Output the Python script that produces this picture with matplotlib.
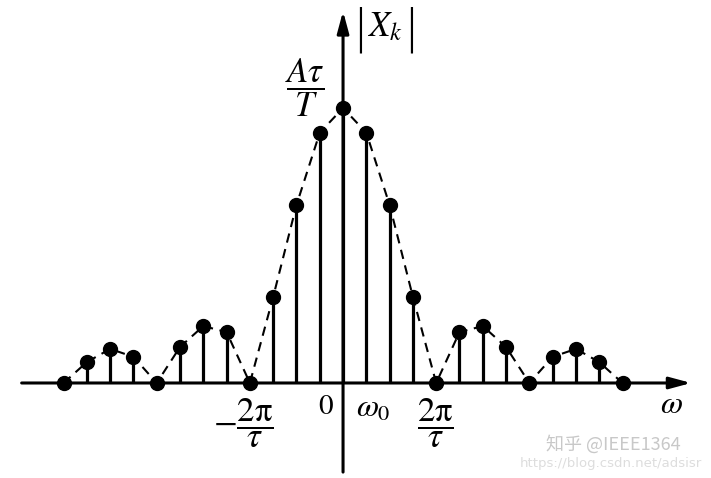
import matplotlib
matplotlib.use("Agg")
import matplotlib.pyplot as plt

# harmonic index k (multiples of omega_0) and normalised magnitudes |X_k| / (A tau / T)
k = [-12, -11, -10, -9, -8, -7, -6, -5, -4, -3, -2, -1, 0,
     1, 2, 3, 4, 5, 6, 7, 8, 9, 10, 11, 12]
mag = [0.0, 0.076, 0.124, 0.095, 0.0, 0.131, 0.207, 0.185, 0.0, 0.313, 0.647, 0.91, 1.0,
       0.91, 0.647, 0.313, 0.0, 0.185, 0.207, 0.131, 0.0, 0.095, 0.124, 0.076, 0.0]

plt.rcParams['mathtext.fontset'] = 'stix'
plt.rcParams['font.family'] = ['STIXGeneral', 'DejaVu Serif']

fig = plt.figure(figsize=(7.11, 4.78), dpi=100)
ax = fig.add_axes([0, 0, 1, 1])
ax.set_xlim(-14.73, 15.80)
ax.set_ylim(-0.3455, 1.3927)
ax.axis('off')

# axes with arrows
ax.annotate('', xy=(14.95, 0), xytext=(-13.8, 0),
            arrowprops=dict(arrowstyle='-|>,head_length=1.3,head_width=0.35',
                            lw=2.2, color='black', shrinkA=0, shrinkB=0))
ax.annotate('', xy=(0, 1.352), xytext=(0, -0.324),
            arrowprops=dict(arrowstyle='-|>,head_length=1.3,head_width=0.35',
                            lw=2.2, color='black', shrinkA=0, shrinkB=0))

# dashed envelope
ax.plot(k, mag, linestyle=(0, (4.5, 3.2)), color='black', lw=1.5, zorder=2)
# stems
ax.vlines(k, 0, mag, colors='black', lw=2.3, zorder=3)
# dots
ax.plot(k, mag, 'o', color='black', markersize=10, zorder=4)

# labels
ax.text(0.73, 1.285, '|', fontsize=34, ha='center', va='center', family='DejaVu Sans',
        fontweight='light')
ax.text(2.9, 1.285, '|', fontsize=34, ha='center', va='center', family='DejaVu Sans',
        fontweight='light')
ax.text(1.8, 1.29, r'$X_k$', fontsize=25, ha='center', va='center')
ax.text(-1.63, 1.075, r'$\dfrac{A\tau}{T}$', fontsize=25, ha='center', va='center')
ax.text(-0.75, -0.09, r'$0$', fontsize=21, ha='center', va='center')
ax.text(1.3, -0.095, r'$\omega_0$', fontsize=23, ha='center', va='center')
ax.text(-4.3, -0.145, r'$-\dfrac{2\mathrm{\pi}}{\tau}$', fontsize=25, ha='center', va='center')
ax.text(3.95, -0.145, r'$\dfrac{2\mathrm{\pi}}{\tau}$', fontsize=25, ha='center', va='center')
ax.text(14.1, -0.08, r'$\omega$', fontsize=23, ha='center', va='center')

# watermark
ax.text(11.6, -0.222, '知乎 @IEEE1364', fontsize=13, color='#c8c8c8',
        family=['Noto Sans CJK SC', 'DejaVu Sans'], ha='center', va='center')
ax.text(15.4, -0.292, 'https://blog.csdn.net/adsisr', fontsize=9.5, color='#dddddd',
        family=['DejaVu Sans'], ha='right', va='center')

fig.savefig('out.png', dpi=100)
